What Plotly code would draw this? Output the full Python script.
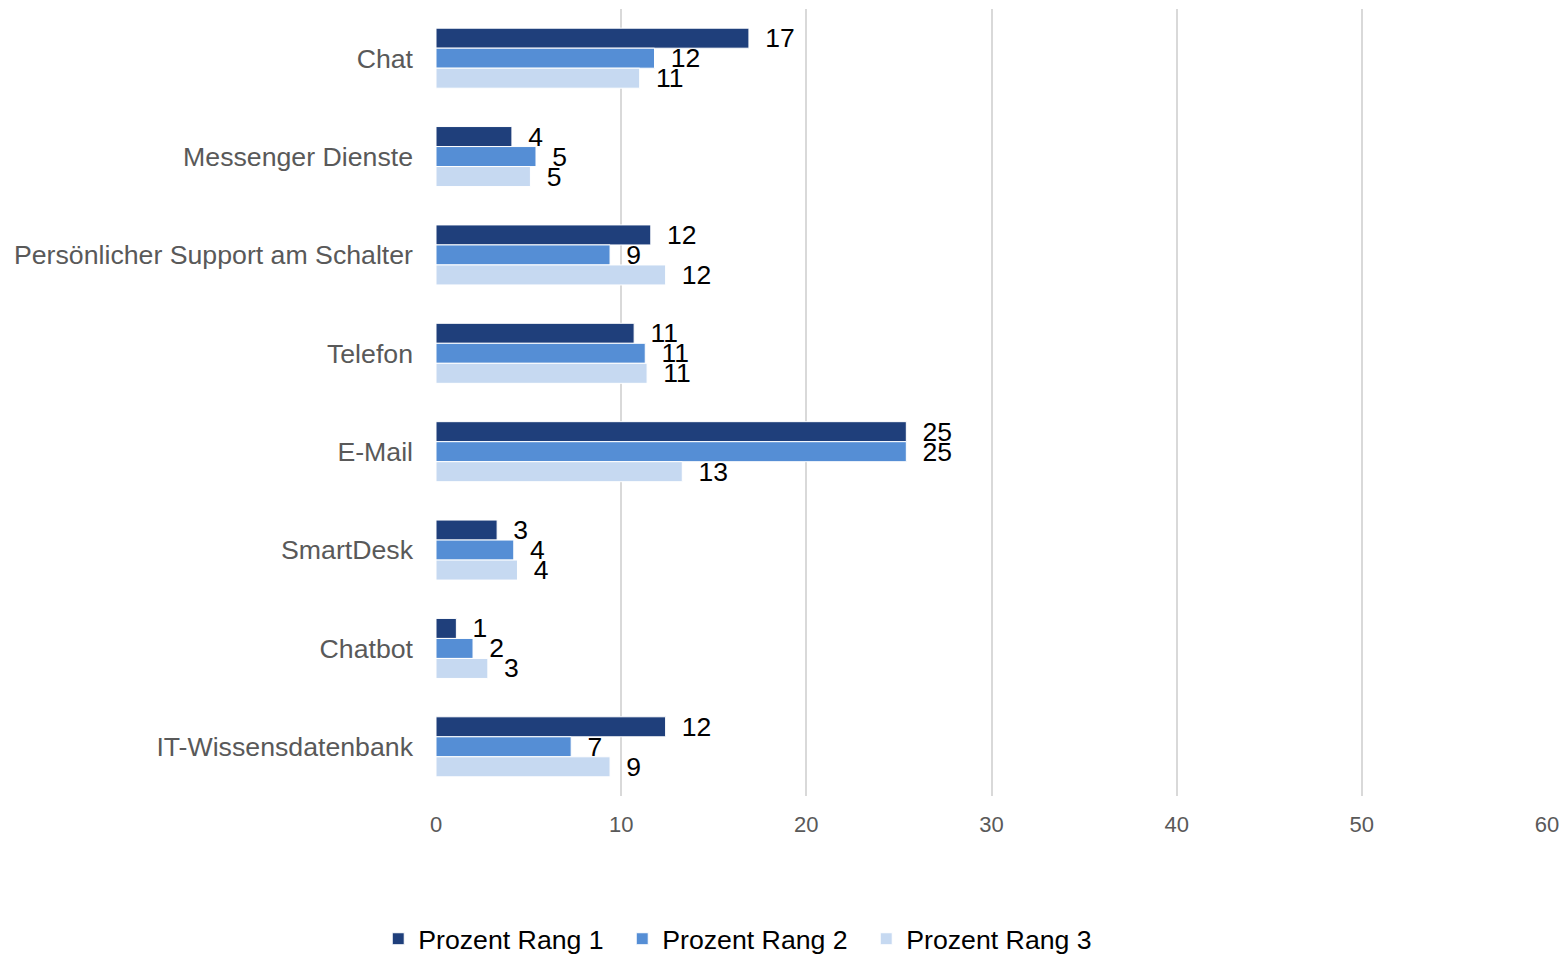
import plotly.graph_objects as go

# Support channels and the share of respondents ranking each one 1st, 2nd, 3rd
kanaele = [
    "Chat",
    "Messenger Dienste",
    "Persönlicher Support am Schalter",
    "Telefon",
    "E-Mail",
    "SmartDesk",
    "Chatbot",
    "IT-Wissensdatenbank",
]
rang_1 = [16.9, 4.1, 11.6, 10.7, 25.4, 3.3, 1.1, 12.4]
rang_2 = [11.8, 5.4, 9.4, 11.3, 25.4, 4.2, 2.0, 7.3]
rang_3 = [11.0, 5.1, 12.4, 11.4, 13.3, 4.4, 2.8, 9.4]

serien = [
    ("Prozent Rang 1", rang_1, "#1F3F7B"),
    ("Prozent Rang 2", rang_2, "#558ED5"),
    ("Prozent Rang 3", rang_3, "#C6D9F1"),
]

x_ticks = [0, 10, 20, 30, 40, 50, 60]

FONT = "Liberation Sans, Arial, sans-serif"

fig = go.Figure()
for name, werte, farbe in serien:
    fig.add_trace(
        go.Bar(
            name=name,
            y=kanaele,
            x=werte,
            orientation="h",
            marker=dict(color=farbe, line=dict(color="#FFFFFF", width=1)),
            texttemplate="\u2002%{x:.0f}",
            textposition="outside",
            constraintext="none",
            cliponaxis=False,
            textfont=dict(family=FONT, size=26.5, color="#000000"),
            hoverinfo="skip",
        )
    )

fig.update_layout(
    width=1565,
    height=955,
    margin=dict(l=436, r=18, t=9, b=159, autoexpand=False),
    paper_bgcolor="#FFFFFF",
    plot_bgcolor="#FFFFFF",
    barmode="group",
    bargap=0.39,
    bargroupgap=0,
    font=dict(family=FONT),
    xaxis=dict(
        range=[0, 60],
        tickvals=x_ticks,
        showgrid=True,
        gridcolor="#D9D9D9",
        gridwidth=2,
        zeroline=False,
        showline=False,
        ticks="",
        automargin=False,
        ticklabelstandoff=13,
        tickfont=dict(family=FONT, size=22, color="#595959"),
    ),
    yaxis=dict(
        autorange="reversed",
        showgrid=False,
        zeroline=False,
        showline=False,
        ticks="",
        automargin=False,
        ticklabelstandoff=22,
        tickfont=dict(family=FONT, size=26.7, color="#595959"),
    ),
    legend=dict(
        orientation="h",
        x=-0.052,
        xanchor="left",
        yref="container",
        y=0.042,
        yanchor="top",
        font=dict(family=FONT, size=26.7, color="#000000"),
        entrywidth=199,
        traceorder="normal",
    ),
    showlegend=True,
)

fig.write_html("out.html")
